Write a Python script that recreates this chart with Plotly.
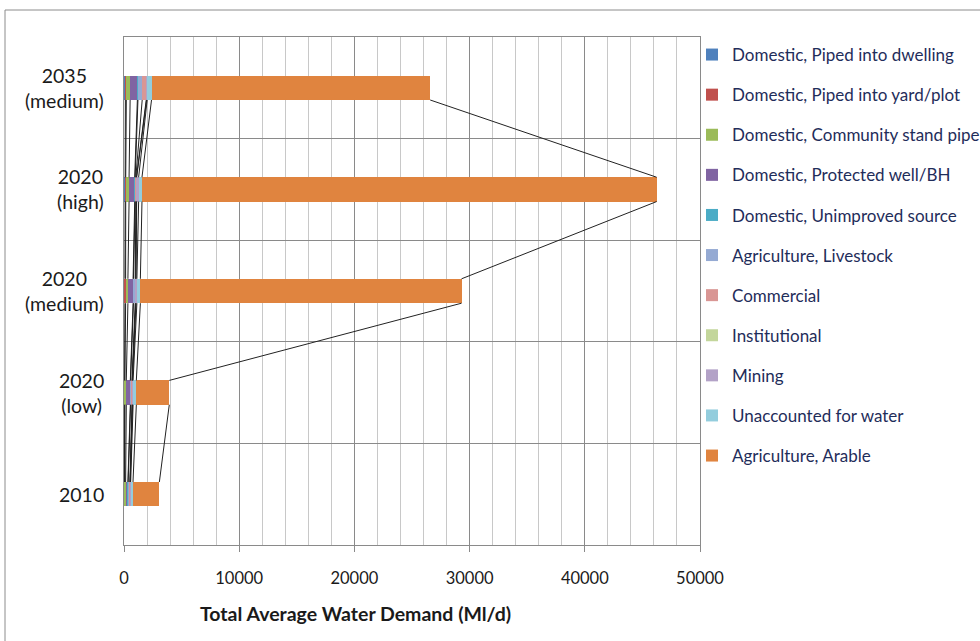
import numpy as np
import plotly.graph_objects as go

# Scenarios, bottom to top
categories = ["2010", "2020<br>(low)", "2020<br>(medium)", "2020<br>(high)", "2035<br>(medium)"]

series_names = [
    "Domestic, Piped into dwelling",
    "Domestic, Piped into yard/plot",
    "Domestic, Community stand pipe",
    "Domestic, Protected well/BH",
    "Domestic, Unimproved source",
    "Agriculture, Livestock",
    "Commercial",
    "Institutional",
    "Mining",
    "Unaccounted for water",
    "Agriculture, Arable",
]

# Average water demand per sector (Ml/d)
piped_dwelling = [40, 50, 80, 100, 120]
piped_yard = [20, 30, 60, 50, 80]
community_standpipe = [80, 120, 200, 290, 330]
protected_well = [200, 350, 450, 490, 630]
unimproved_source = [20, 20, 30, 40, 50]
livestock = [150, 120, 150, 60, 370]
commercial = [20, 30, 50, 50, 350]
institutional = [10, 10, 20, 20, 30]
mining = [40, 60, 80, 170, 50]
unaccounted = [200, 280, 300, 290, 380]
arable = [2290, 2860, 27880, 44670, 24190]

series_values = [piped_dwelling, piped_yard, community_standpipe, protected_well,
                 unimproved_source, livestock, commercial, institutional, mining,
                 unaccounted, arable]

colors = ["#4F81BD", "#C0504D", "#9BBB59", "#8064A2", "#4BACC6", "#95AAD3",
          "#D99694", "#C3D69B", "#B3A2C7", "#93CDDD", "#E0843F"]

x_ticks = [0, 10000, 20000, 30000, 40000, 50000]

W, H = 980, 641
L, R, T, B = 124, 280, 37, 96
PW, PH = W - L - R, H - T - B
BAR_W = 0.24
FONT = "Lato, 'Open Sans', sans-serif"
TEXT = "#1a1a1a"

ypos = np.arange(len(categories))

fig = go.Figure()

# Series lines joining the end of each stacked segment between neighbouring scenarios
cum = np.cumsum(np.array(series_values, dtype=float), axis=0)
lx, ly = [], []
for k in range(cum.shape[0]):
    for i in range(len(categories) - 1):
        lx += [cum[k, i + 1], cum[k, i], None]
        ly += [ypos[i + 1] - BAR_W / 2, ypos[i] + BAR_W / 2, None]
fig.add_trace(go.Scatter(x=lx, y=ly, mode="lines", line=dict(color="#222222", width=1),
                         showlegend=False, hoverinfo="skip"))

for idx, (name, vals, col) in enumerate(zip(series_names, series_values, colors)):
    fig.add_trace(go.Bar(
        x=vals, y=ypos, orientation="h", name=name, width=BAR_W,
        marker=dict(color=col, line=dict(width=0)),
        legendgroup=f"g{idx}",
    ))

def px_x(p):
    return (p - L) / PW

def px_y(p):
    return (H - B - p) / PH

# Category labels, each line centred
for y, lab in zip(ypos, categories):
    fig.add_annotation(x=px_x(106), y=y, xref="paper", yref="y", text=lab,
                       showarrow=False, xanchor="right", align="center",
                       font=dict(family=FONT, size=19.5, color=TEXT))

# Axis title
fig.add_annotation(x=px_x(355), y=px_y(613), xref="paper", yref="paper",
                   text="<b>Total Average Water Demand (Ml/d)</b>", showarrow=False,
                   xanchor="center", yanchor="middle",
                   font=dict(family=FONT, size=19.5, color=TEXT))

# Outer chart frame
fig.add_shape(type="rect", xref="paper", yref="paper",
              x0=px_x(5), x1=px_x(990), y0=px_y(660), y1=px_y(10),
              line=dict(color="#8c8c8c", width=1), fillcolor="rgba(0,0,0,0)", layer="below")

fig.update_layout(
    width=W, height=H, barmode="stack", bargap=0,
    margin=dict(l=L, r=R, t=T, b=B, autoexpand=False),
    paper_bgcolor="white", plot_bgcolor="white",
    font=dict(family=FONT, color=TEXT),
    legend=dict(x=px_x(692), y=px_y(37), xanchor="left", yanchor="top",
                traceorder="grouped", tracegroupgap=15,
                font=dict(family=FONT, size=17, color="#1f2d5a"),
                bgcolor="rgba(0,0,0,0)"),
    xaxis=dict(range=[0, 50000], tickvals=x_ticks, ticktext=[str(v) for v in x_ticks],
               showgrid=True, gridcolor="#8a8a8a", gridwidth=1,
               minor=dict(dtick=2000, showgrid=True, gridcolor="#c8c8c8", gridwidth=1),
               ticks="outside", ticklen=6, tickcolor="#8a8a8a",
               showline=True, linecolor="#8a8a8a", mirror=True, zeroline=False,
               ticklabelstandoff=12,
               tickfont=dict(family=FONT, size=16.5, color=TEXT)),
    yaxis=dict(range=[-0.5, len(categories) - 0.5], tickvals=[0.5, 1.5, 2.5, 3.5],
               showticklabels=False, showgrid=True, gridcolor="#8a8a8a", gridwidth=1,
               showline=True, linecolor="#8a8a8a", mirror=True, zeroline=False, ticks=""),
)

fig.write_html("out.html")
